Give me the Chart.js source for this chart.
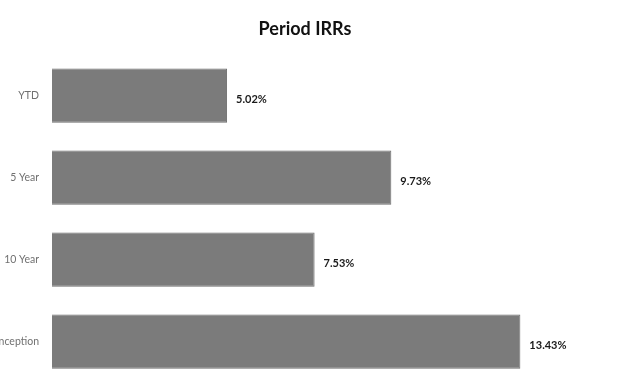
<!DOCTYPE html>
<html>
<head>
<meta charset="utf-8">
<script src="https://cdn.jsdelivr.net/npm/chart.js@4"></script>
<style>
  html, body { margin: 0; padding: 0; background: #fff; overflow: hidden; }
  canvas { display: block; }
</style>
</head>
<body>
<canvas id="canvas" width="623" height="402"></canvas>
<script>
// period labels and IRR values (percent)
var periods = ["YTD", "5 Year", "10 Year", "Since Inception"];
var irrs = [5.02, 9.73, 7.53, 13.43];
var irrLabels = ["5.02%", "9.73%", "7.53%", "13.43%"];

// write the % value just past the end of each bar
var valueLabels = {
    id: 'valueLabels',
    afterDatasetsDraw: function(chart) {
        var ctx = chart.ctx;
        var meta = chart.getDatasetMeta(0);
        ctx.save();
        ctx.font = 'bold 11px Lato, "Open Sans", sans-serif';
        ctx.fillStyle = '#1a1a1a';
        ctx.textAlign = 'left';
        ctx.textBaseline = 'middle';
        meta.data.forEach(function(bar, i) {
            ctx.fillText(irrLabels[i], bar.x + 9, bar.y + 4);
        });
        ctx.restore();
    }
};

var ctx = document.getElementById('canvas').getContext('2d');
var chart = new Chart(ctx, {
    type: 'bar',
    data: {
        labels: periods,
        datasets: [{
            data: irrs,
            backgroundColor: '#7b7b7b',
            borderColor: '#6e6e6e',
            borderWidth: 1,
            barPercentage: 0.66,
            categoryPercentage: 1
        }]
    },
    options: {
        indexAxis: 'y',
        responsive: false,
        animation: false,
        layout: { padding: { left: 0, right: 13, top: 0, bottom: 3 } },
        plugins: {
            legend: { display: false },
            tooltip: { enabled: false },
            title: {
                display: true,
                text: 'Period IRRs',
                color: '#111',
                font: { family: 'Lato, "Open Sans", sans-serif', size: 18, weight: 'bold' },
                padding: { top: 18, bottom: 15 }
            }
        },
        scales: {
            x: {
                display: false,
                min: 0,
                max: 16
            },
            y: {
                grid: { display: false, drawTicks: false },
                border: { display: false },
                ticks: {
                    color: '#707070',
                    padding: 13,
                    font: { family: 'Lato, "Open Sans", sans-serif', size: 10.5 }
                },
                afterFit: function(scale) { scale.width = 52; }
            }
        }
    },
    plugins: [valueLabels]
});
</script>
</body>
</html>
